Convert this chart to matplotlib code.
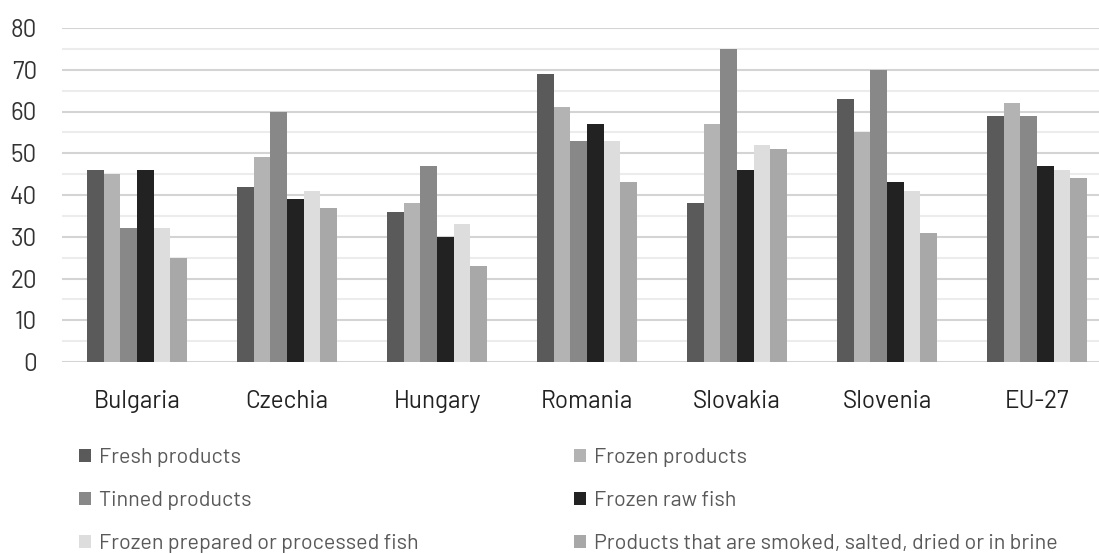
import numpy as np
import matplotlib.pyplot as plt
from matplotlib.patches import Patch

# data
countries = ['Bulgaria', 'Czechia', 'Hungary', 'Romania', 'Slovakia', 'Slovenia', 'EU-27']
fresh = [46, 42, 36, 69, 38, 63, 59]
frozen = [45, 49, 38, 61, 57, 55, 62]
tinned = [32, 60, 47, 53, 75, 70, 59]
frozen_raw = [46, 39, 30, 57, 46, 43, 47]
frozen_prep = [32, 41, 33, 53, 52, 41, 46]
smoked = [25, 37, 23, 43, 51, 31, 44]

series_labels = [
    'Fresh products',
    'Frozen products',
    'Tinned products',
    'Frozen raw fish',
    'Frozen prepared or processed fish',
    'Products that are smoked, salted, dried or in brine',
]
series = [fresh, frozen, tinned, frozen_raw, frozen_prep, smoked]
colors = ['#5a5a5a', '#b3b3b3', '#888888', '#222222', '#dddddd', '#a8a8a8']

plt.rcParams['font.family'] = ['Barlow', 'Barlow Semi Condensed', 'DejaVu Sans']

W, H = 1099, 554
fig = plt.figure(figsize=(W / 100, H / 100), dpi=100)
ax = fig.add_axes([62 / W, 192 / H, (W - 62) / W, 334 / H])

x = np.arange(len(countries))
bw = 100 / 150 / 6
for i, (vals, c) in enumerate(zip(series, colors)):
    ax.bar(x - 3 * bw + (i + 0.5) * bw, vals, width=bw, color=c, zorder=3)

ax.set_xlim(-0.5, -0.5 + (W - 62) / 150)
ax.set_ylim(0, 80)
ax.set_yticks(np.arange(0, 81, 10))
ax.set_yticks(np.arange(5, 80, 10), minor=True)
ax.grid(axis='y', which='major', color='#d4d4d4', linewidth=1.5, zorder=0)
ax.grid(axis='y', which='minor', color='#ececec', linewidth=1.5, zorder=0)
for s in ax.spines.values():
    s.set_visible(False)
ax.tick_params(axis='y', which='both', length=0, labelsize=17.5, labelcolor='#333333', pad=18)
ax.tick_params(axis='x', length=0, labelsize=17.5, labelcolor='#222222', pad=20)
ax.set_xticks(x)
ax.set_xticklabels(countries)

# legend fills column by column, so reorder to read row by row
order = [0, 2, 4, 1, 3, 5]
handles = [Patch(facecolor=colors[i], edgecolor='none') for i in order]
labels = [series_labels[i] for i in order]
fig.legend(handles, labels, ncol=2, loc='upper left',
           bbox_to_anchor=(60 / W, 1 - 429 / H), frameon=False,
           fontsize=15.5, labelcolor='#595959', handlelength=0.55, handleheight=0.55,
           handletextpad=0.35, labelspacing=1.1, columnspacing=7.25)

fig.savefig('out.png', dpi=100)
